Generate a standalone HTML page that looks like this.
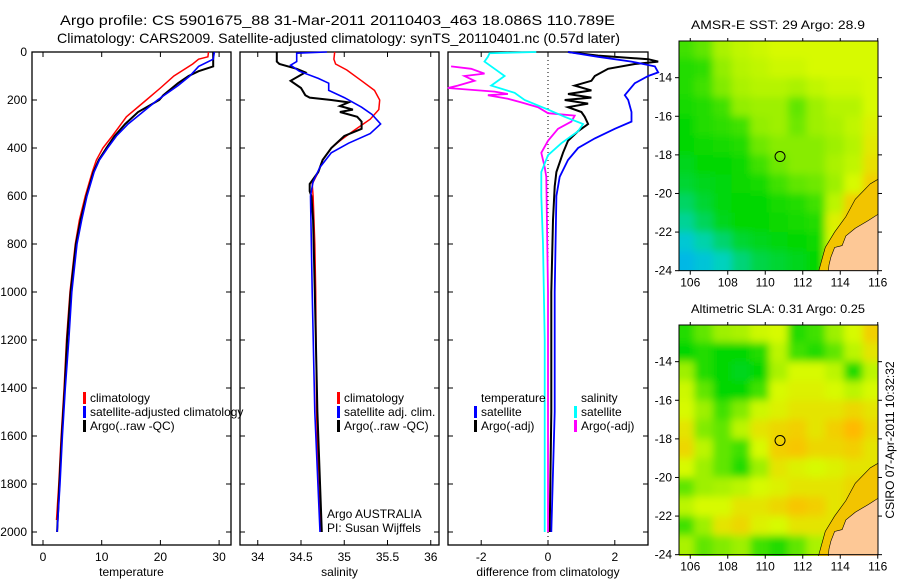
<!DOCTYPE html>
<html><head><meta charset="utf-8"><style>
body{margin:0;background:#fff}
svg{display:block;font-family:"Liberation Sans",sans-serif}
text{font-size:12px;fill:#000}
</style></head><body>
<svg id="c" width="900" height="580" viewBox="0 0 900 580">
<defs>
<filter id="bl" x="-10%" y="-10%" width="120%" height="120%"><feGaussianBlur stdDeviation="4"/></filter>
<clipPath id="cm1"><rect x="679" y="41" width="199" height="230"/></clipPath>
<clipPath id="cm2"><rect x="679" y="325" width="199" height="231"/></clipPath>
</defs>
<text x="60" y="25" textLength="555" lengthAdjust="spacingAndGlyphs" style="font-size:14px">Argo profile: CS 5901675_88 31-Mar-2011 20110403_463 18.086S 110.789E</text>
<text x="57" y="43" textLength="563" lengthAdjust="spacingAndGlyphs" style="font-size:14px">Climatology: CARS2009. Satellite-adjusted climatology: synTS_20110401.nc (0.57d later)</text>
<g id="g"></g>
</svg>
<script>
// ---------- profile data (depth in m) ----------
const tClimD=[0,20,30,50,100,150,200,270,350,400,450,500,600,700,800,1000,1200,1400,1600,1800,1950];
const tClimV=[28.2,28.1,26.5,25.5,22.3,20,17.6,14.2,11.8,10.2,9.1,8.4,7.2,6.2,5.5,4.6,4.0,3.6,3.1,2.7,2.3];
const tSatD=[0,30,60,100,140,200,260,300,350,400,450,500,600,700,800,1000,1200,1400,1600,1800,2000];
const tSatV=[29.2,29,26.5,25,23,19.5,16.5,14.5,12.5,11,9.6,8.7,7.5,6.6,5.8,4.9,4.4,3.8,3.3,2.9,2.4];
const tArgD=[0,60,80,100,130,180,200,250,300,350,400,450,500,600,700,800,1000,1200,1400,1600,1800,2000];
const tArgV=[29,29,26.5,24.8,23,20.5,19.8,16.2,14,12.2,10.8,9.5,8.6,7.4,6.4,5.6,4.7,4.1,3.7,3.2,2.8,2.4];
const sClimD=[0,30,50,75,120,160,200,240,280,330,370,400,450,500,550,600,800,1000,1500,1800,2000];
const sClimV=[34.89,34.88,34.9,35.03,35.2,35.35,35.41,35.4,35.3,35.1,34.95,34.85,34.75,34.7,34.63,34.64,34.66,34.67,34.68,34.7,34.73];
const sSatD=[0,5,40,55,80,110,130,160,190,230,260,300,340,380,420,480,540,600,1000,1500,2000];
const sSatV=[34.8,34.45,34.45,34.38,34.48,34.7,34.82,34.82,35.0,35.2,35.32,35.42,35.3,35.05,34.85,34.72,34.64,34.61,34.63,34.66,34.72];
const sArgD=[0,40,50,70,85,120,150,180,190,200,210,225,240,250,270,290,320,350,400,450,500,550,580,600,700,1000,1500,2000];
const sArgV=[34.22,34.22,34.25,34.45,34.55,34.38,34.5,34.55,34.6,34.85,35.05,34.95,35.1,34.95,35.15,35.2,35.2,35.0,34.85,34.75,34.7,34.6,34.6,34.62,34.64,34.66,34.69,34.74];
const dTSatD=[0,20,40,60,85,100,130,180,200,250,290,320,360,400,450,520,600,1000,1500,2000];
const dTSatV=[0.6,1.5,2.5,3.2,3.3,3.0,2.6,2.3,2.4,2.5,2.5,2.0,1.4,0.9,0.6,0.35,0.25,0.2,0.2,0.1];
const dTArgD=[0,15,30,40,50,70,100,120,140,160,175,190,200,215,230,250,270,300,330,370,420,500,560,700,1000,1500,2000];
const dTArgV=[0.6,1.5,3.0,3.3,2.6,1.8,1.4,1.3,0.8,1.3,0.6,1.3,0.5,1.2,0.6,1.0,1.1,1.2,0.9,0.6,0.45,0.25,0.2,0.15,0.1,0.1,0.05];
const dSSatD=[0,5,20,40,70,100,140,170,200,240,270,300,330,380,430,500,600,800,1200,1600,2000];
const dSSatV=[-0.35,-1.75,-1.8,-1.9,-1.6,-1.3,-1.7,-1.0,-0.7,0,0.5,1.05,0.9,0.4,0,-0.2,-0.2,-0.15,-0.1,-0.1,-0.1];
const dSArgD=[60,70,90,100,120,140,150,165,175,180,195,210,230,255,265,290,320,370,420,480,520,1000,2000];
const dSArgV=[-2.9,-2.3,-1.9,-2.5,-2.2,-2.7,-3,-1.6,-1.2,-1.8,-1.2,-0.8,-0.3,0,0.8,0.7,0.3,0,-0.2,-0.1,-0.05,0,0];
const depthTicks=[0,200,400,600,800,1000,1200,1400,1600,1800,2000];
const tTicks=[0,10,20,30];
const sTicks=[34,34.5,35,35.5,36];
const dTicks=[-2,0,2];
// ---------- map data (rows lat -12..-24, cols lon 105.2..116.2, 0=blue..1=orange) ----------
const sstGrid=[
[.55,.6,.72,.76,.78,.8,.8,.8,.8,.8,.8],
[.5,.52,.68,.74,.76,.78,.78,.8,.8,.8,.8],
[.5,.55,.65,.72,.74,.74,.72,.76,.78,.78,.8],
[.48,.5,.55,.68,.7,.7,.6,.7,.74,.74,.8],
[.45,.5,.52,.55,.68,.7,.62,.7,.72,.76,.82],
[.45,.47,.48,.5,.62,.66,.66,.66,.7,.74,.84],
[.42,.45,.45,.47,.55,.62,.66,.66,.72,.76,.86],
[.4,.42,.44,.46,.48,.55,.6,.62,.7,.8,.9],
[.35,.4,.44,.45,.45,.48,.5,.55,.75,.9,.95],
[.3,.36,.42,.45,.45,.46,.48,.5,.82,.95,.95],
[.2,.28,.34,.4,.42,.44,.45,.47,.8,.9,.9],
[.12,.18,.26,.33,.38,.4,.42,.45,.8,.9,.9]];
const slaGrid=[
[.5,.6,.7,.72,.78,.8,.5,.55,.7,.8,.9],
[.45,.5,.45,.45,.5,.75,.55,.5,.6,.75,.85],
[.7,.5,.45,.42,.45,.72,.8,.8,.75,.5,.75],
[.78,.6,.45,.45,.55,.8,.82,.82,.8,.75,.8],
[.8,.7,.55,.65,.78,.82,.85,.85,.85,.88,.85],
[.85,.65,.6,.75,.85,.88,.9,.85,.9,.95,.88],
[.88,.75,.6,.55,.8,.9,.92,.88,.88,.9,.85],
[.8,.7,.6,.5,.7,.85,.82,.8,.82,.85,.85],
[.6,.7,.72,.75,.8,.82,.85,.85,.85,.88,.9],
[.75,.8,.8,.85,.85,.88,.92,.9,.85,.88,.9],
[.55,.7,.85,.88,.82,.8,.85,.85,.85,.88,.88],
[.72,.6,.65,.7,.55,.5,.6,.72,.75,.85,.85]];
const coastLon=[116.3,115.5,114.8,114.3,114.1,113.7,113.5,113.4,113.35,116.3];
const coastLat=[-20.9,-21.4,-21.8,-22.2,-22.7,-22.8,-23.3,-23.7,-24.2,-24.2];
const shelfLon=[116.3,115.6,114.8,114.3,113.7,113.2,113.0,112.8,116.3];
const shelfLat=[-19.1,-19.5,-20.3,-21.2,-22.0,-22.8,-23.5,-24.2,-24.2];
const lonTicks=[106,108,110,112,114,116];
const latTicks=[-14,-16,-18,-20,-22,-24];
const argoLon=110.789, argoLat=-18.086;

const NS='http://www.w3.org/2000/svg';
const G=document.getElementById('g');
function mk(tag,at,par){const e=document.createElementNS(NS,tag);for(const k in at)e.setAttribute(k,at[k]);(par||G).appendChild(e);return e;}
const dy=d=>52+d*0.24;
const panels=[
 {x0:32,x1:231,sx:v=>43+v*5.87,ticks:tTicks,label:'temperature',name:'temperature-panel'},
 {x0:240,x1:439,sx:v=>301+(v-34.5)*86.5,ticks:sTicks,label:'salinity',name:'salinity-panel'},
 {x0:448,x1:648,sx:v=>548+v*33.4,ticks:dTicks,label:'difference from climatology',name:'difference-panel'}];
panels.forEach((p,pi)=>{
 const r=mk('rect',{x:p.x0,y:52,width:p.x1-p.x0,height:493,fill:'none',stroke:'#000','stroke-width':1.3});
 
 
 depthTicks.forEach(d=>{
  mk('line',{x1:p.x0,x2:p.x0+5,y1:dy(d),y2:dy(d),stroke:'#000'});
  mk('line',{x1:p.x1,x2:p.x1-5,y1:dy(d),y2:dy(d),stroke:'#000'});
 });
 p.ticks.forEach(t=>{
  const x=p.sx(t);
  mk('line',{x1:x,x2:x,y1:545,y2:540,stroke:'#000'});
  mk('line',{x1:x,x2:x,y1:52,y2:57,stroke:'#000'});
  const tx=mk('text',{x:x,y:561,'text-anchor':'middle'});tx.textContent=String(t);
  
  
 });
 const lb=mk('text',{x:(p.x0+p.x1)/2,y:576,'text-anchor':'middle'});lb.textContent=p.label;
 
 
});
depthTicks.forEach(d=>{const t=mk('text',{x:27,y:dy(d)+4,'text-anchor':'end'});t.textContent=String(d);
 
 });
mk('line',{x1:548,x2:548,y1:52,y2:545,stroke:'#000','stroke-dasharray':'1,3'});
function line(D,V,sx,col,w,name){
 const pts=D.map((d,i)=>sx(V[i]).toFixed(1)+','+dy(d).toFixed(1)).join(' ');
 const l=mk('polyline',{points:pts,fill:'none',stroke:col,'stroke-width':w});
 
 
}
const P=panels;
line(tClimD,tClimV,P[0].sx,'#f00',1.5,'temp-climatology-line');
line(tArgD,tArgV,P[0].sx,'#000',2,'temp-argo-line');
line(tSatD,tSatV,P[0].sx,'#00f',1.6,'temp-satellite-line');
line(sClimD,sClimV,P[1].sx,'#f00',1.5,'sal-climatology-line');
line(sArgD,sArgV,P[1].sx,'#000',2,'sal-argo-line');
line(sSatD,sSatV,P[1].sx,'#00f',1.6,'sal-satellite-line');
line(dTArgD,dTArgV,P[2].sx,'#000',2,'dtemp-argo-line');
line(dTSatD,dTSatV,P[2].sx,'#00f',1.8,'dtemp-satellite-line');
line(dSArgD,dSArgV,P[2].sx,'#f0f',1.8,'dsal-argo-line');
line(dSSatD,dSSatV,P[2].sx,'#0ff',1.8,'dsal-satellite-line');
function leg(x,y,col,txt,name){
 if(col){const b=mk('rect',{x:x,y:y-10,width:3,height:12,fill:col});
  
  }
 const t=mk('text',{x:x+7,y:y});t.textContent=txt;
 
 
}
leg(83,402,'#f00','climatology','legend-climatology');
leg(83,416,'#00f','satellite-adjusted climatology','legend-satellite-adjusted');
leg(83,430,'#000','Argo(..raw -QC)','legend-argo');
leg(337,402,'#f00','climatology','legend-sal-climatology');
leg(337,416,'#00f','satellite adj. clim.','legend-sal-satellite');
leg(337,430,'#000','Argo(..raw -QC)','legend-sal-argo');
leg(320,518,null,'Argo AUSTRALIA','legend-argo-australia');
leg(320,532,null,'PI: Susan Wijffels','legend-pi');
leg(474,402,null,'temperature','legend-temperature-head');
leg(474,416,'#00f','satellite','legend-temp-satellite');
leg(474,430,'#000','Argo(-adj)','legend-temp-argo');
leg(574,402,null,'salinity','legend-salinity-head');
leg(574,416,'#0ff','satellite','legend-sal-sat');
leg(574,430,'#f0f','Argo(-adj)','legend-sal-argo-adj');
// colormap
const stops=[[0,[0,160,255]],[.25,[0,210,200]],[.45,[0,215,0]],[.65,[130,235,0]],[.8,[215,250,0]],[.95,[255,185,0]],[1,[240,150,0]]];
function cmap(v){for(let i=1;i<stops.length;i++){if(v<=stops[i][0]){const a=stops[i-1],b=stops[i],f=(v-a[0])/(b[0]-a[0]);
 return 'rgb('+a[1].map((c,k)=>Math.round(c+(b[1][k]-c)*f)).join(',')+')';}}return 'rgb(240,150,0)';}
function map(top,grid,clip,name,title){
 const mx=l=>679+(l-105.4)*18.75, my=la=>top+(-12.1-la)*19.3;
 const cg=mk('g',{'clip-path':'url(#'+clip+')'});
 
 
 const hg=mk('g',{filter:'url(#bl)'},cg);
 grid.forEach((row,r)=>row.forEach((v,c)=>{
  const x0=mx(105.2+c),y0=my(-12-r);
  const w=(c==0?-20:0), h=(r==0?-20:0);
  const cell=mk('rect',{x:x0+w,y:y0+h,width:19.5-w+(c==row.length-1?20:0),height:20-h+(r==grid.length-1?20:0),fill:cmap(v)},hg);
  
  
 }));
 const sp=shelfLon.map((l,i)=>mx(l)+','+my(shelfLat[i])).join(' ');
 mk('polygon',{points:sp,fill:'#f2c400',stroke:'#000','stroke-width':0.6},cg);
 const cp=coastLon.map((l,i)=>mx(l)+','+my(coastLat[i])).join(' ');
 const land=mk('polygon',{points:cp,fill:'#fdc896',stroke:'#000','stroke-width':0.6},cg);
 
 
 const ci=mk('circle',{cx:mx(argoLon),cy:my(argoLat),r:5,fill:'none',stroke:'#000'});
 
 
 mk('rect',{x:679,y:top,width:199,height:my(-24)-top,fill:'none',stroke:'#000','stroke-width':1});
 lonTicks.forEach(l=>{const x=mx(l);mk('line',{x1:x,x2:x,y1:my(-24),y2:my(-24)+4,stroke:'#000'});
  mk('line',{x1:x,x2:x,y1:top,y2:top-3,stroke:'#000'});
  const t=mk('text',{x:x,y:my(-24)+16,'text-anchor':'middle'});t.textContent=String(l);
  
  });
 latTicks.forEach(la=>{const y=my(la);mk('line',{x1:679,x2:675,y1:y,y2:y,stroke:'#000'});
  mk('line',{x1:878,x2:882,y1:y,y2:y,stroke:'#000'});
  const t=mk('text',{x:672,y:y+4,'text-anchor':'end'});t.textContent=String(la);
  
  });
 const tt=mk('text',{x:691,y:top-12,textLength:174,lengthAdjust:'spacingAndGlyphs'});tt.textContent=title;
 
 
}
map(41,sstGrid,'cm1','sst-map','AMSR-E SST: 29  Argo: 28.9');
map(325,slaGrid,'cm2','sla-map','Altimetric SLA: 0.31  Argo: 0.25');
const st=mk('text',{x:0,y:0,transform:'translate(894,440) rotate(-90)','text-anchor':'middle'});
st.textContent='CSIRO 07-Apr-2011 10:32:32';


</script>
</body></html>
